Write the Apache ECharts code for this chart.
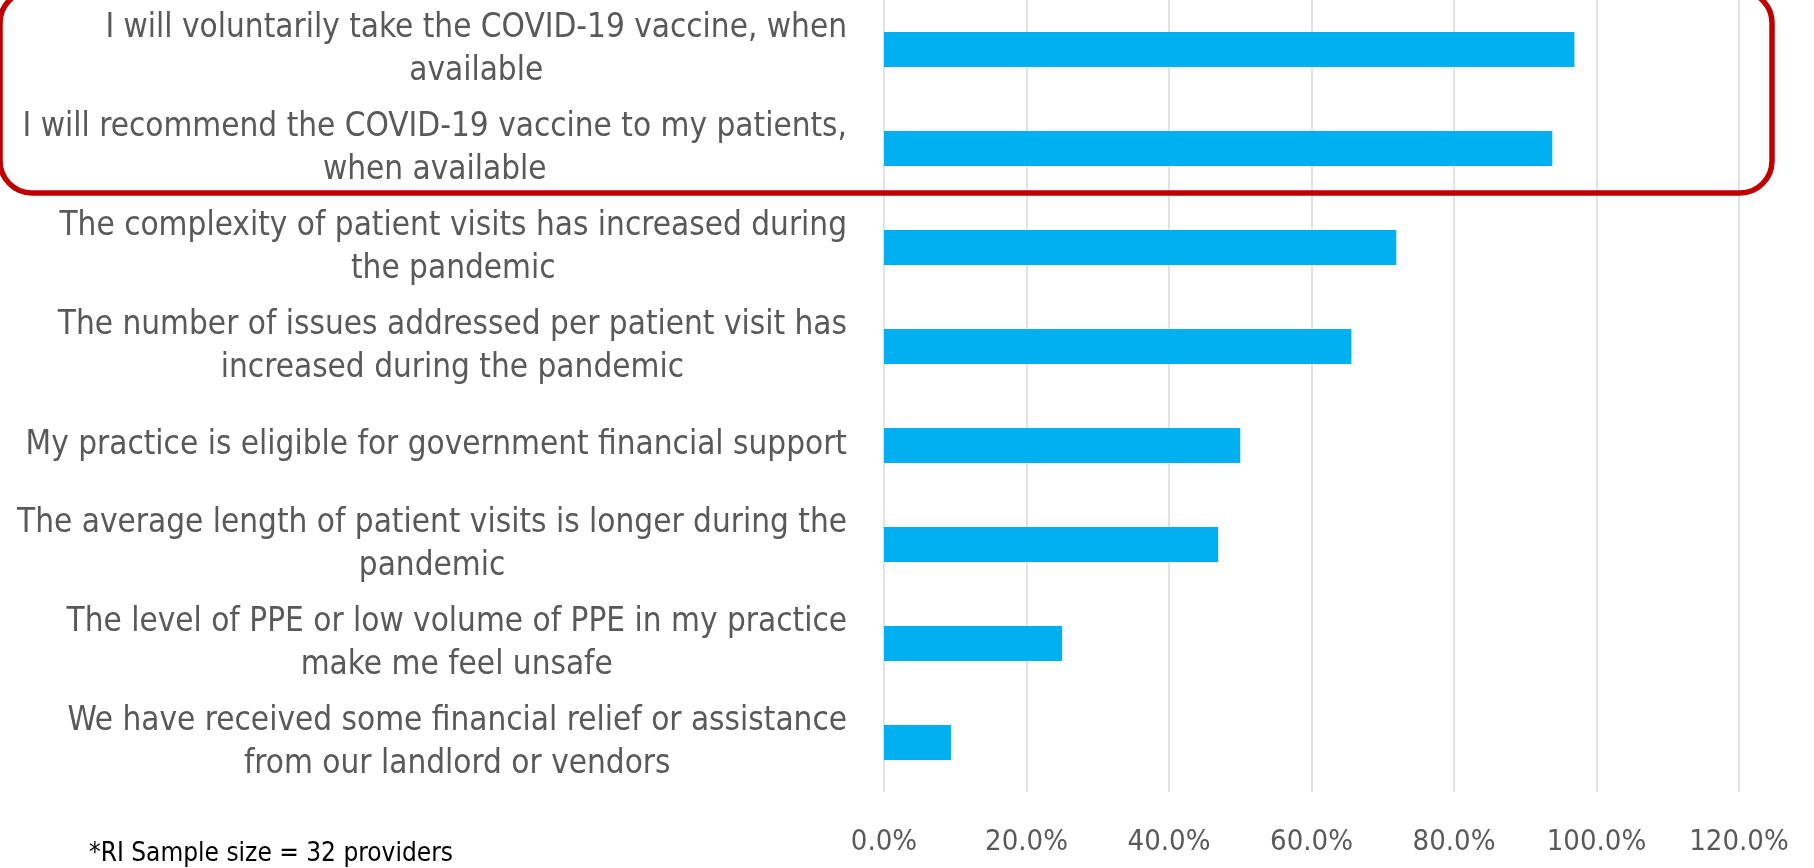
<!DOCTYPE html>
<html>
<head>
<meta charset="utf-8">
<script src="https://cdn.jsdelivr.net/npm/echarts@6/dist/echarts.min.js"></script>
<style>
html,body{margin:0;padding:0;background:#fff;}
#chart{width:1814px;height:868px;}
</style>
</head>
<body>
<div id="chart"></div>
<script>
const categories = [
  "I will voluntarily take the COVID-19 vaccine, when\navailable",
  "I will recommend the COVID-19 vaccine to my patients,\nwhen available",
  "The complexity of patient visits has increased during\nthe pandemic",
  "The number of issues addressed per patient visit has\nincreased during the pandemic",
  "My practice is eligible for government financial support",
  "The average length of patient visits is longer during the\npandemic",
  "The level of PPE or low volume of PPE in my practice\nmake me feel unsafe",
  "We have received some financial relief or assistance\nfrom our landlord or vendors"
];
const values = [96.9, 93.8, 71.9, 65.6, 50.0, 46.9, 25.0, 9.4];
const axisMax = 120;
const axisStep = 20;
const footnote = "*RI Sample size = 32 providers";

const FONT = "'DejaVu Sans Condensed', 'Noto Sans', sans-serif";
const chart = echarts.init(document.getElementById('chart'));
chart.setOption({
  animation: false,
  backgroundColor: '#ffffff',
  grid: { left: 884, right: 75, top: -7, bottom: 76, containLabel: false },
  xAxis: {
    type: 'value', min: 0, max: axisMax, interval: axisStep,
    axisLine: { show: false }, axisTick: { show: false },
    splitLine: { show: true, lineStyle: { color: '#D9D9D9', width: 1.5 } },
    axisLabel: {
      formatter: v => v.toFixed(1) + '%',
      color: '#595959', fontSize: 29, fontFamily: FONT, margin: 36
    }
  },
  yAxis: {
    type: 'category', data: categories, inverse: true,
    axisLine: { show: false }, axisTick: { show: false },
    axisLabel: {
      margin: 37, align: 'right',
      formatter: v => v.split('\n').map(l => '{c|' + l + '}').join('\n'),
      rich: { c: { align: 'center', color: '#595959', fontSize: 33, fontFamily: FONT, lineHeight: 43 } }
    }
  },
  series: [{
    type: 'bar', data: values, barWidth: 35,
    itemStyle: { color: '#00B0F0' }
  }],
  graphic: [
    { type: 'rect', z: 100, shape: { x: 0, y: -9, width: 1772, height: 202, r: 32 },
      style: { fill: 'none', stroke: '#C00000', lineWidth: 5.5 } },
    { type: 'text', z: 100, left: 89, top: 841,
      style: { text: footnote, fill: '#000000', font: "26px " + FONT } }
  ]
});
</script>
</body>
</html>
